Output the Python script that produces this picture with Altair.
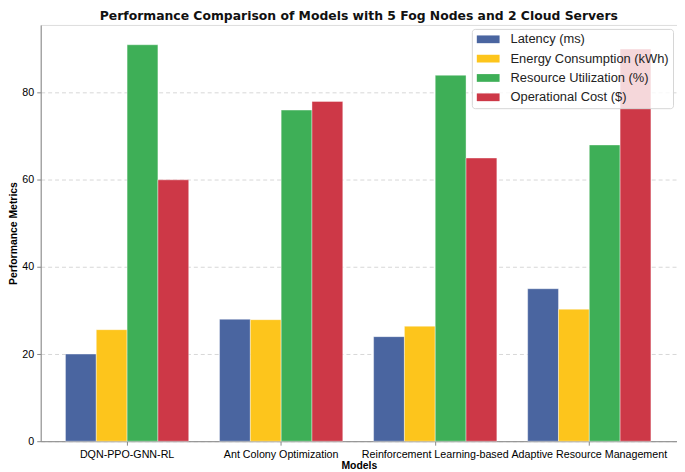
import altair as alt
import pandas as pd

models = ["DQN-PPO-GNN-RL", "Ant Colony Optimization",
          "Reinforcement Learning-based", "Adaptive Resource Management"]
metrics = ["Latency (ms)", "Energy Consumption (kWh)",
           "Resource Utilization (%)", "Operational Cost ($)"]
latency = [20, 28, 24, 35]
energy = [25.6, 27.9, 26.4, 30.3]
utilization = [91, 76, 84, 68]
cost = [60, 78, 65, 90]
colors = ["#4a65a0", "#fdc51c", "#3eaf57", "#cd3847"]
y_ticks = [0, 20, 40, 60, 80]

series = [latency, energy, utilization, cost]
rows = []
for mi, m in enumerate(metrics):
    for gi, g in enumerate(models):
        rows.append({"model": g, "metric": m, "value": series[mi][gi]})
df = pd.DataFrame(rows)

font = "DejaVu Sans"

chart = alt.Chart(df).mark_bar(stroke="white", strokeWidth=0.4).encode(
    x=alt.X("model:N", sort=models,
            scale=alt.Scale(paddingInner=0.2, paddingOuter=0.165, align=0.487),
            axis=alt.Axis(title="Models", labelAngle=0, labelOverlap=False,
                          labelLimit=0, labelFontSize=10.8, titleFontSize=10.5,
                          titleFontWeight="bold", tickSize=4, labelPadding=3,
                          titlePadding=2, grid=False)),
    xOffset=alt.XOffset("metric:N", sort=metrics,
                        scale=alt.Scale(paddingInner=0, paddingOuter=0)),
    y=alt.Y("value:Q",
            scale=alt.Scale(domain=[0, 95.55], nice=False, zero=True),
            axis=alt.Axis(title="Performance Metrics", values=y_ticks,
                          labelFontSize=10.8, titleFontSize=10.5,
                          titleFontWeight="bold", tickSize=4, labelPadding=3,
                          titlePadding=3, grid=True, gridDash=[4, 3],
                          gridColor="#cccccc", gridWidth=0.8)),
    color=alt.Color("metric:N", sort=metrics,
                    scale=alt.Scale(domain=metrics, range=colors),
                    legend=alt.Legend(
                        title=None, orient="top-right", offset=4,
                        symbolType="M-2,-0.68L2,-0.68L2,0.68L-2,0.68Z",
                        symbolSize=132, symbolStrokeWidth=0, symbolOffset=6,
                        labelFontSize=13, labelColor="#222",
                        fillColor="rgba(255,255,255,0.8)",
                        strokeColor="#d6d6d6", cornerRadius=3,
                        padding=4, rowPadding=5.5, labelOffset=16)),
).properties(
    width=642, height=420,
    title=alt.TitleParams(
        "Performance Comparison of Models with 5 Fog Nodes and 2 Cloud Servers",
        fontSize=12.5, fontWeight="bold", font=font, offset=2, color="#111"),
).configure_view(
    stroke="#555", strokeWidth=1.2
).configure_axis(
    labelFont=font, titleFont=font, labelColor="#222", titleColor="#111",
    domainColor="#555", tickColor="#555"
).configure_legend(
    labelFont=font
).configure(padding=0)

chart.save("out.html", embed_options={"renderer": "svg", "actions": False})
